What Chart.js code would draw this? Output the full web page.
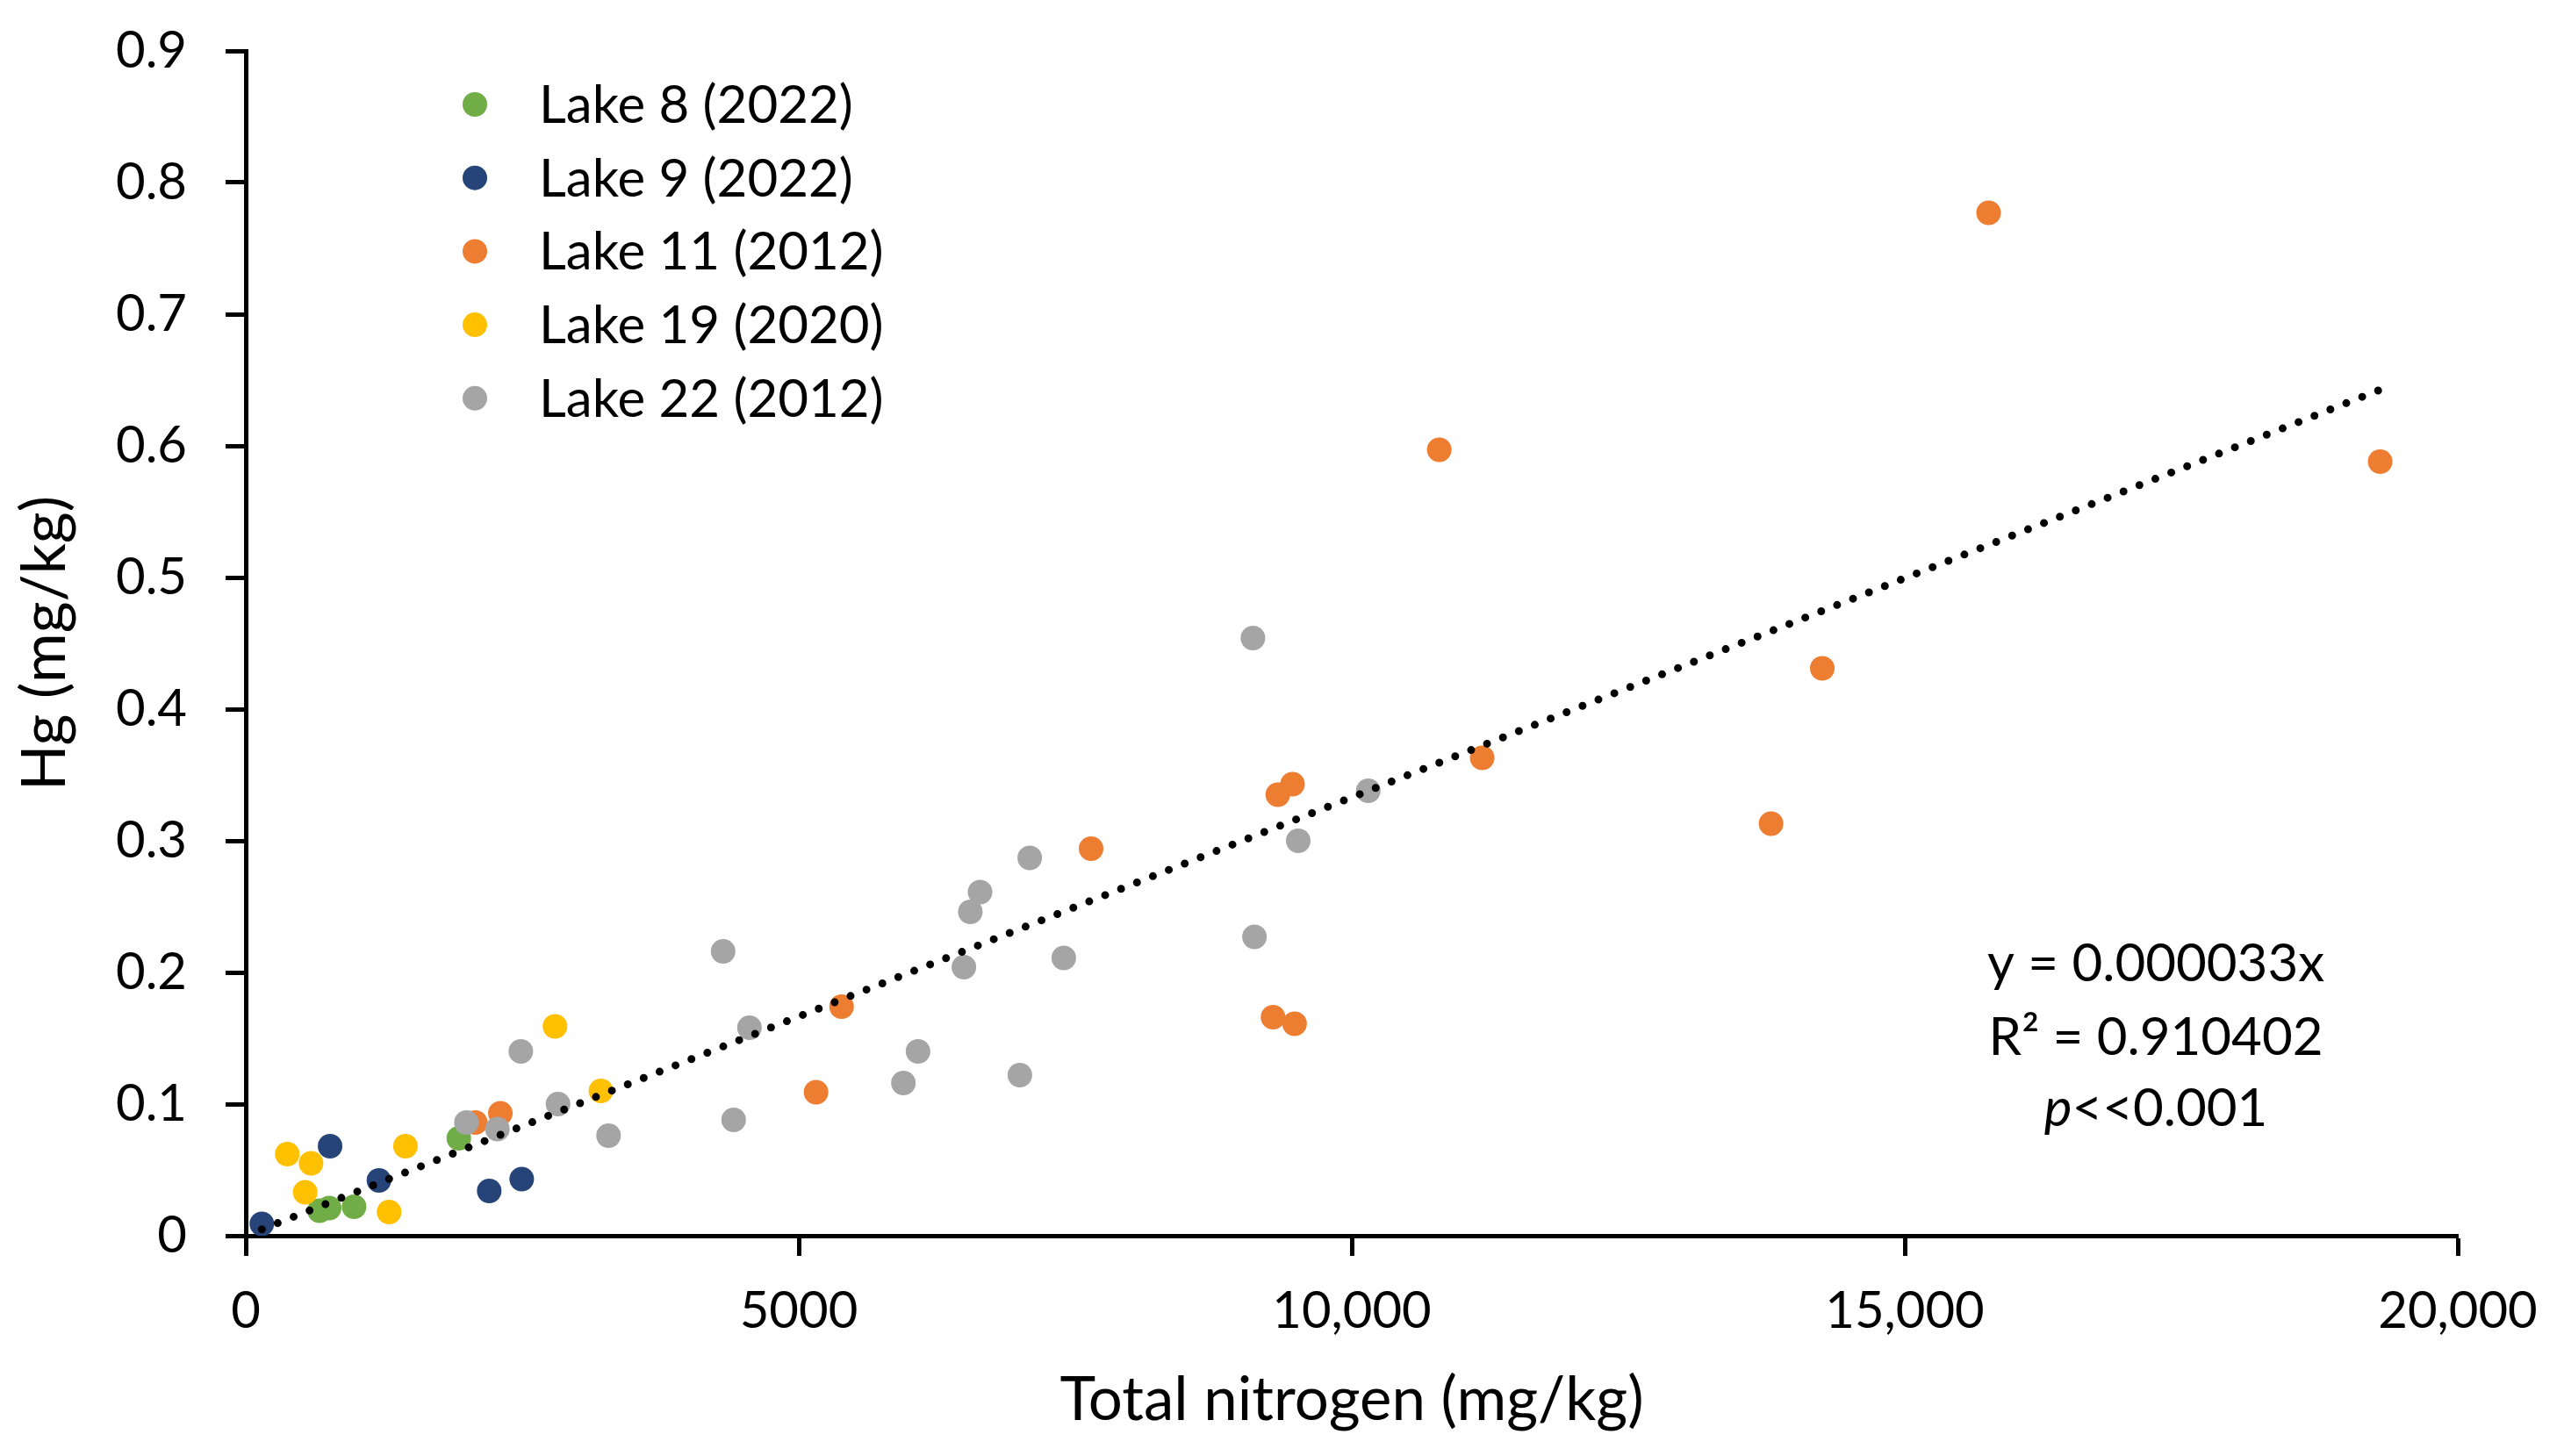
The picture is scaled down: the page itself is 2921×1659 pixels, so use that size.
<!DOCTYPE html>
<html>
<head>
<meta charset="utf-8">
<script src="https://cdn.jsdelivr.net/npm/chart.js@4.4.1/dist/chart.umd.min.js"></script>
<style>
    html, body { margin: 0; padding: 0; background: #fff; }
    #wrap { width: 2921px; height: 1659px; position: relative; }
</style>
</head>
<body>
<div id="wrap"><canvas id="myChart"></canvas></div>
<script>
// 시리즈 데이터 (Total nitrogen mg/kg, Hg mg/kg)
const seriesNames = ['Lake 8 (2022)', 'Lake 9 (2022)', 'Lake 11 (2012)', 'Lake 19 (2020)', 'Lake 22 (2012)'];
const seriesColors = ['#70AD47', '#264478', '#ED7D31', '#FFC000', '#A5A5A5'];

const lake8N = [667, 754, 979, 1926];
const lake8Hg = [0.019, 0.021, 0.022, 0.074];

const lake9N = [145, 762, 1204, 2201, 2495];
const lake9Hg = [0.009, 0.068, 0.042, 0.034, 0.043];

const lake11N = [2075, 2302, 5156, 5387, 7643, 9288, 9483, 9331, 9464, 10791, 11179, 13791, 14254, 15758, 19298];
const lake11Hg = [0.086, 0.093, 0.109, 0.174, 0.294, 0.166, 0.161, 0.335, 0.343, 0.597, 0.363, 0.313, 0.431, 0.777, 0.588];

const lake19N = [375, 537, 590, 1296, 1444, 2796, 3211];
const lake19Hg = [0.062, 0.033, 0.055, 0.018, 0.068, 0.159, 0.110];

const lake22N = [1995, 2275, 2487, 2823, 3280, 4316, 4411, 4554, 5946, 6078, 6493, 6551, 6639, 6999, 7088, 7396, 9106, 9120, 9516, 10149];
const lake22Hg = [0.086, 0.081, 0.140, 0.100, 0.076, 0.216, 0.088, 0.158, 0.116, 0.140, 0.204, 0.246, 0.261, 0.122, 0.287, 0.211, 0.454, 0.227, 0.300, 0.338];

// 추세선 (y = 0.000033x, 반올림 전 기울기)
const slope = 0.0000333;
const eqLines = ['y = 0.000033x', 'R\u00B2 = 0.910402', '<<0.001'];

const xTicks = [0, 5000, 10000, 15000, 20000];
const xTickLabels = ['0', '5000', '10,000', '15,000', '20,000'];
const yTicks = [0, 0.1, 0.2, 0.3, 0.4, 0.5, 0.6, 0.7, 0.8, 0.9];

const FONT = 'Lato';

function toPoints(xs, ys) {
    return xs.map((x, i) => ({ x: x, y: ys[i] }));
}

const allN = [].concat(lake8N, lake9N, lake11N, lake19N, lake22N);
const nMin = Math.min.apply(null, allN);
const nMax = Math.max.apply(null, allN);

// 범례 + 회귀식 텍스트 그리기
const overlayPlugin = {
    id: 'overlay',
    afterDatasetsDraw(chart) {
        const ctx = chart.ctx;
        const area = chart.chartArea;
        ctx.save();
        ctx.font = '60px ' + FONT;
        ctx.textBaseline = 'alphabetic';
        seriesNames.forEach((name, i) => {
            const cy = area.top + 61 + i * 83.7;
            ctx.fillStyle = seriesColors[i];
            ctx.beginPath();
            ctx.arc(area.left + 261, cy, 14, 0, Math.PI * 2);
            ctx.fill();
            ctx.fillStyle = '#000';
            ctx.textAlign = 'left';
            ctx.fillText(name, area.left + 334, cy + 21);
        });

        const xs = chart.scales.x, ys = chart.scales.y;
        const cx = xs.getPixelForValue(17270);
        const base = ys.getPixelForValue(0.1933);
        ctx.textAlign = 'center';
        ctx.fillText(eqLines[0], cx, base);
        ctx.fillText(eqLines[1], cx, base + 84);
        // p 이탤릭
        ctx.font = 'italic 60px ' + FONT;
        const pW = ctx.measureText('p').width;
        ctx.font = '60px ' + FONT;
        const restW = ctx.measureText(eqLines[2]).width;
        const startX = cx - (pW + restW) / 2;
        ctx.textAlign = 'left';
        ctx.font = 'italic 60px ' + FONT;
        ctx.fillText('p', startX, base + 165);
        ctx.font = '60px ' + FONT;
        ctx.fillText(eqLines[2], startX + pW, base + 165);
        ctx.restore();
    }
};

function drawChart() {
    const ctx = document.getElementById('myChart').getContext('2d');
    const series = [
        toPoints(lake8N, lake8Hg),
        toPoints(lake9N, lake9Hg),
        toPoints(lake11N, lake11Hg),
        toPoints(lake19N, lake19Hg),
        toPoints(lake22N, lake22Hg)
    ];
    const datasets = series.map((pts, i) => ({
        label: seriesNames[i],
        data: pts,
        backgroundColor: seriesColors[i],
        borderWidth: 0,
        pointRadius: 14,
        order: 5 - i
    }));
    datasets.push({
        label: 'trend',
        data: [{ x: nMin, y: slope * nMin }, { x: nMax, y: slope * nMax }],
        showLine: true,
        pointRadius: 0,
        borderColor: '#000',
        borderWidth: 9,
        borderDash: [0, 19.5],
        borderCapStyle: 'round',
        order: 0
    });

    new Chart(ctx, {
        type: 'scatter',
        data: { datasets: datasets },
        options: {
            responsive: true,
            maintainAspectRatio: false,
            animation: false,
            layout: { padding: { top: 58, right: 121, left: 0, bottom: 0 } },
            plugins: {
                legend: { display: false },
                tooltip: { enabled: false }
            },
            scales: {
                x: {
                    type: 'linear',
                    min: 0,
                    max: 20000,
                    afterFit: s => { s.height = 251; },
                    afterBuildTicks: s => { s.ticks = xTicks.map(v => ({ value: v })); },
                    ticks: {
                        color: '#000',
                        font: { family: FONT, size: 58 },
                        padding: 28,
                        maxRotation: 0,
                        callback: v => xTickLabels[xTicks.indexOf(v)]
                    },
                    grid: { drawOnChartArea: false, tickLength: 23, tickColor: '#000', tickWidth: 5 },
                    border: { color: '#000', width: 5 },
                    title: {
                        display: true,
                        text: 'Total nitrogen (mg/kg)',
                        color: '#000',
                        font: { family: FONT, size: 69 },
                        padding: { top: 0, bottom: 22 }
                    }
                },
                y: {
                    type: 'linear',
                    min: 0,
                    max: 0.9,
                    afterFit: s => {
                        s.width = 280;
                        s.paddingTop = 0;
                        s.paddingBottom = 0;
                    },
                    afterBuildTicks: s => { s.ticks = yTicks.map(v => ({ value: v })); },
                    ticks: {
                        color: '#000',
                        font: { family: FONT, size: 58 },
                        padding: 44,
                        callback: v => (v === 0 ? '0' : v.toFixed(1))
                    },
                    grid: { drawOnChartArea: false, tickLength: 23, tickColor: '#000', tickWidth: 5 },
                    border: { color: '#000', width: 5 },
                    title: {
                        display: true,
                        text: 'Hg (mg/kg)',
                        color: '#000',
                        font: { family: FONT, size: 69 },
                        padding: { top: 10, bottom: 0 }
                    }
                }
            }
        },
        plugins: [overlayPlugin]
    });
}

if (document.fonts && document.fonts.load) {
    document.fonts.load('60px ' + FONT).then(drawChart, drawChart);
} else {
    drawChart();
}
</script>
</body>
</html>
